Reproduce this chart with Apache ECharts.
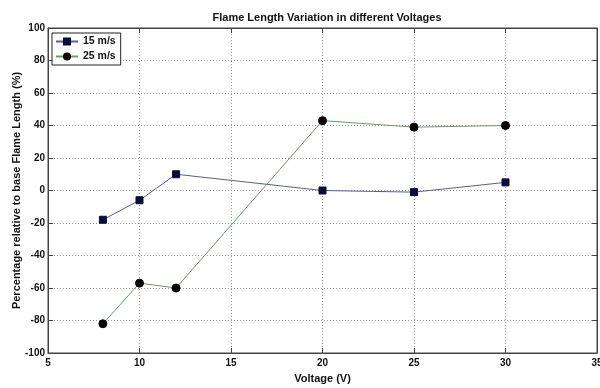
<!DOCTYPE html>
<html><head><meta charset="utf-8">
<script src="https://cdn.jsdelivr.net/npm/echarts@6/dist/echarts.min.js"></script>
<style>html,body{margin:0;padding:0;background:#fff}#c{width:600px;height:388px}</style>
</head><body><div id="c"></div>
<script>
const voltages = [8, 10, 12, 20, 25, 30];
const s15 = [-18, -6, 10, 0, -1, 5];
const s25 = [-82, -57, -60, 43, 39, 40];
const seriesNames = ['15 m/s', '25 m/s'];
const titleText = 'Flame Length Variation in different Voltages';
const xName = 'Voltage (V)';
const yName = 'Percentage relative to base Flame Length (%)';

const font = 'Liberation Sans, Arial, sans-serif';
const chart = echarts.init(document.getElementById('c'));
const pair = (xs, ys) => xs.map((x, i) => [x, ys[i]]);
const gridLine = {show: true, lineStyle: {type: [1, 2], color: '#999', width: 1}};
chart.setOption({
  animation: false,
  backgroundColor: '#fff',
  title: {text: titleText, left: 322, textAlign: 'center', top: 7,
    textStyle: {fontFamily: font, fontSize: 11, fontWeight: 'bold', color: '#111'}},
  grid: {left: 48, right: 3, top: 28, bottom: 35, show: true, borderColor: '#444', borderWidth: 1,
    outerBoundsMode: 'none', containLabel: false},
  legend: {
    left: 52, top: 33, orient: 'vertical', itemGap: 4, itemWidth: 22, itemHeight: 10,
    borderColor: '#222', borderWidth: 1, padding: [3, 5, 3, 3], backgroundColor: '#fff',
    textStyle: {fontFamily: font, fontSize: 10.5, fontWeight: 'bold', color: '#111'},
    data: seriesNames
  },
  xAxis: [{
    type: 'value', min: 5, max: 35, interval: 5,
    name: xName, nameLocation: 'middle', nameGap: 20, nameMoveOverlap: false,
    nameTextStyle: {fontFamily: font, fontSize: 11, fontWeight: 'bold', color: '#111'},
    axisLine: {show: true, onZero: false, lineStyle: {color: '#444'}},
    axisTick: {inside: true, length: 5, lineStyle: {color: '#444'}},
    axisLabel: {fontFamily: font, fontSize: 10, fontWeight: 'bold', color: '#111', margin: 5},
    splitLine: gridLine
  }, {
    type: 'value', min: 5, max: 35, interval: 5, position: 'top',
    axisLine: {show: true, onZero: false, lineStyle: {color: '#444'}},
    axisTick: {inside: true, length: 5, lineStyle: {color: '#444'}},
    axisLabel: {show: false}, splitLine: {show: false}
  }],
  yAxis: [{
    type: 'value', min: -100, max: 100, interval: 20,
    name: yName, nameLocation: 'middle', nameGap: 26, nameMoveOverlap: false,
    nameTextStyle: {fontFamily: font, fontSize: 11, fontWeight: 'bold', color: '#111'},
    axisLine: {show: true, onZero: false, lineStyle: {color: '#444'}},
    axisTick: {inside: true, length: 5, lineStyle: {color: '#444'}},
    axisLabel: {fontFamily: font, fontSize: 10, fontWeight: 'bold', color: '#111', margin: 3},
    splitLine: gridLine
  }, {
    type: 'value', min: -100, max: 100, interval: 20, position: 'right',
    axisLine: {show: true, onZero: false, lineStyle: {color: '#444'}},
    axisTick: {inside: true, length: 5, lineStyle: {color: '#444'}},
    axisLabel: {show: false}, splitLine: {show: false}
  }],
  series: [{
    name: seriesNames[0], type: 'line', data: pair(voltages, s15),
    symbol: 'rect', symbolSize: 7,
    lineStyle: {color: '#5a5a9e', width: 1},
    itemStyle: {color: '#0c0c3c', borderColor: '#0c0c3c'}
  }, {
    name: seriesNames[1], type: 'line', data: pair(voltages, s25),
    symbol: 'circle', symbolSize: 8,
    lineStyle: {color: '#6a9a6a', width: 1},
    itemStyle: {color: '#050505', borderColor: '#050505'}
  }]
});
</script></body></html>
